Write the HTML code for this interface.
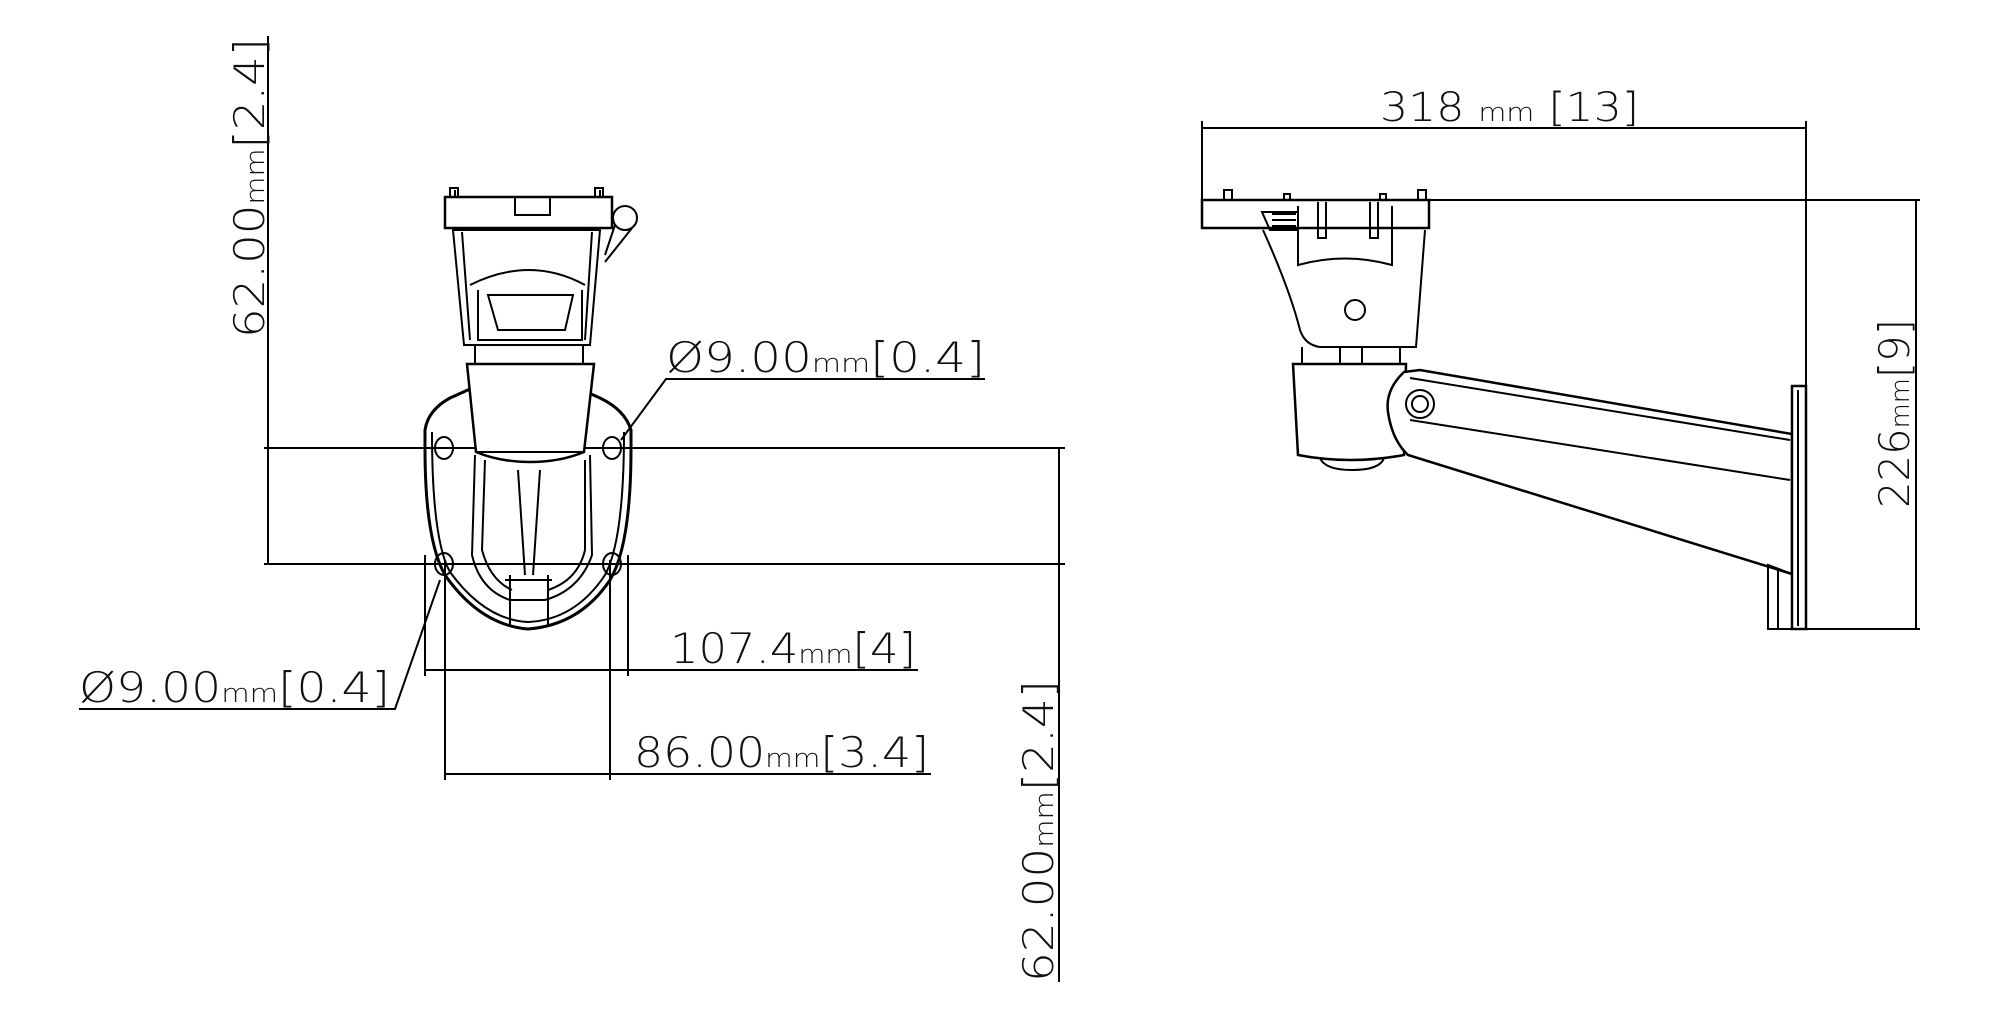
<!DOCTYPE html>
<html><head><meta charset="utf-8"><style>
html,body{margin:0;padding:0;background:#fff;}
svg{display:block;}
text{font-family:"DejaVu Sans","Liberation Sans",sans-serif;font-weight:300;fill:#111;}
</style></head><body>
<svg width="2000" height="1019" viewBox="0 0 2000 1019" xmlns="http://www.w3.org/2000/svg">
<g stroke="#000" stroke-width="2" fill="none">
<!-- LEFT VIEW dimension lines -->
<line x1="268" y1="36" x2="268" y2="564"/>
<line x1="264" y1="448" x2="1065" y2="448"/>
<line x1="264" y1="564" x2="1065" y2="564"/>
<line x1="1059" y1="448" x2="1059" y2="982"/>
<line x1="425" y1="555" x2="425" y2="676"/>
<line x1="628" y1="555" x2="628" y2="676"/>
<line x1="425" y1="670" x2="918" y2="670"/>
<line x1="445" y1="560" x2="445" y2="780"/>
<line x1="610" y1="560" x2="610" y2="780"/>
<line x1="445" y1="774" x2="931" y2="774"/>
<polyline points="621,440 666,379 985,379"/>
<polyline points="440,580 395,709 79,709"/>
<!-- left device -->
<path d="M425,430 L425,448 Q425,540 445,575 Q480,625 528,629 Q580,625 610,580 Q631,545 631,448 L631,430 Q625,410 600,398 L580,389 L470,389 L450,398 Q428,410 425,430 Z" stroke-width="3"/>
<path d="M432,432 Q432,540 450,572 Q485,620 528,622 Q575,620 605,575 Q624,540 624,432"/>
<path d="M475,455 L472,555 Q480,590 510,600 L545,600 Q580,590 592,555 L590,455"/>
<path d="M485,460 L482,550 Q490,580 512,590 M585,460 L585,550 Q578,580 548,590"/>
<path d="M510,575 L510,626 M548,575 L548,626 M505,580 L552,580"/>
<path d="M518,470 L525,575 M540,470 L533,575"/>
<ellipse cx="444" cy="448" rx="9" ry="11"/><ellipse cx="612" cy="448" rx="9" ry="11"/>
<ellipse cx="444" cy="564" rx="9" ry="11"/><ellipse cx="612" cy="564" rx="9" ry="11"/>
<path d="M467,364 L594,364 L584,452 Q560,462 530,462 Q500,462 476,452 Z" fill="#fff" stroke-width="2.5"/>
<line x1="476" y1="452" x2="584" y2="452"/>
<path d="M453,230 L600,230 L590,345 L464,345 Z" fill="#fff"/>
<path d="M462,232 L470,340 M592,232 L585,340 M475,345 L475,364 L583,364 L583,345"/>
<path d="M470,285 Q530,255 585,285"/>
<path d="M478,290 L478,340 L582,340 L582,290 M488,295 L498,330 L565,330 L573,295 Z"/>
<path d="M445,197 L612,197 L612,228 L445,228 Z" fill="#fff" stroke-width="2.5"/>
<path d="M515,197 L515,215 L550,215 L550,197 M455,190 L455,197 M600,190 L600,197"/>
<rect x="450" y="188" width="8" height="9"/><rect x="595" y="188" width="8" height="9"/>
<circle cx="625" cy="218" r="12" fill="#fff"/>
<path d="M615,225 L605,255 M632,228 L605,262"/>
<!-- RIGHT VIEW dimension lines -->
<line x1="1202" y1="128" x2="1806" y2="128"/>
<line x1="1202" y1="121" x2="1202" y2="200"/>
<line x1="1806" y1="121" x2="1806" y2="629"/>
<line x1="1429" y1="200" x2="1920" y2="200"/>
<line x1="1916" y1="200" x2="1916" y2="629"/>
<line x1="1806" y1="629" x2="1920" y2="629"/>
<!-- right device -->
<path d="M1202,200 L1429,200 L1429,228 L1202,228 Z" stroke-width="2.5"/>
<rect x="1224" y="190" width="8" height="10"/><rect x="1418" y="190" width="8" height="10"/>
<rect x="1284" y="194" width="6" height="6"/><rect x="1380" y="194" width="6" height="6"/>
<path d="M1262,212 L1270,230 L1298,230 L1298,212 Z"/>
<path d="M1272,214 L1296,214 M1272,220 L1296,220 M1272,226 L1296,226"/>
<path d="M1263,230 Q1290,290 1300,330 Q1305,345 1320,347 L1416,347 L1425,230"/>
<path d="M1298,206 L1298,265 Q1345,252 1392,265 L1392,206"/>
<path d="M1318,202 L1318,238 L1326,238 L1326,202 M1370,202 L1370,238 L1378,238 L1378,202"/>
<circle cx="1355" cy="310" r="10"/>
<path d="M1302,347 L1302,364 M1400,347 L1400,364 M1340,347 L1340,364 M1362,347 L1362,364"/>
<path d="M1293,364 L1406,364 L1404,455 Q1350,465 1298,455 Z" fill="#fff" stroke-width="2.5"/>
<path d="M1320,458 Q1325,470 1352,470 Q1380,470 1384,458"/>
<path d="M1404,372 Q1385,390 1388,412 Q1392,440 1408,455 L1792,574 L1792,434 L1420,370 Z" fill="#fff" stroke-width="2.5"/>
<path d="M1410,378 L1790,440 M1410,420 L1790,480"/>
<circle cx="1420" cy="404" r="14"/><circle cx="1420" cy="404" r="8"/>
<rect x="1792" y="386" width="14" height="243" fill="#fff" stroke-width="2.5"/>
<line x1="1798" y1="390" x2="1798" y2="626"/>
<path d="M1792,574 L1768,565 L1768,629 L1792,629"/>
<line x1="1778" y1="570" x2="1778" y2="629"/>
</g>
<!-- labels -->
<text transform="translate(264,338) rotate(-90)" font-size="42" textLength="300" lengthAdjust="spacingAndGlyphs">62.00<tspan font-size="26">mm</tspan>[2.4]</text>
<text transform="translate(1053,982) rotate(-90)" font-size="42" textLength="302" lengthAdjust="spacingAndGlyphs">62.00<tspan font-size="26">mm</tspan>[2.4]</text>
<text x="670" y="663" font-size="42" textLength="246" lengthAdjust="spacingAndGlyphs">107.4<tspan font-size="26">mm</tspan>[4]</text>
<text x="634" y="767" font-size="42" textLength="295" lengthAdjust="spacingAndGlyphs">86.00<tspan font-size="26">mm</tspan>[3.4]</text>
<text x="666" y="372" font-size="42" textLength="319" lengthAdjust="spacingAndGlyphs">Ø9.00<tspan font-size="26">mm</tspan>[0.4]</text>
<text x="79" y="702" font-size="42" textLength="311" lengthAdjust="spacingAndGlyphs">Ø9.00<tspan font-size="26">mm</tspan>[0.4]</text>
<text x="1380" y="121" font-size="40" textLength="259" lengthAdjust="spacingAndGlyphs">318 <tspan font-size="26">mm</tspan>   [13]</text>
<text transform="translate(1909,508) rotate(-90)" font-size="42" textLength="189" lengthAdjust="spacingAndGlyphs">226<tspan font-size="26">mm</tspan>[9]</text>
</svg>
</body></html>
